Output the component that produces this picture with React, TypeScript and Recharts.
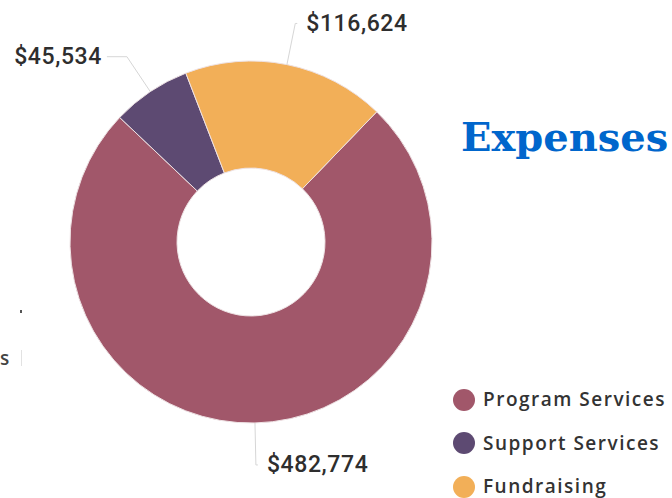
import { PieChart, Pie, Cell } from 'recharts';

const categories = ['Program Services', 'Support Services', 'Fundraising'];
const amounts = [482774, 45534, 116624];
const colors = ['#A1576A', '#5D4A72', '#F2AF58'];

const data = categories.map((name, i) => ({ name, value: amounts[i] }));

const RADIAN = Math.PI / 180;

function renderLabel(props: any) {
  const { cx, cy, midAngle, outerRadius, value } = props;
  const cos = Math.cos(-midAngle * RADIAN);
  const sin = Math.sin(-midAngle * RADIAN);
  const sx = cx + outerRadius * cos;
  const sy = cy + outerRadius * sin;
  const mx = cx + (outerRadius + 42) * cos;
  const my = cy + (outerRadius + 42) * sin;
  const left = cos < -0.1;
  const ex = mx + (left ? -20 : 2);
  const tx = ex + (left ? -5 : 9);
  return (
    <g>
      <path d={`M${sx},${sy}L${mx},${my}L${ex},${my}`} stroke="#d6d6d6" strokeWidth={1} fill="none" />
      <text
        x={tx}
        y={my}
        textAnchor={left ? 'end' : 'start'}
        dominantBaseline="central"
        fill="#2e2e2e"
        fontFamily="Roboto, sans-serif"
        fontWeight={500}
        fontSize={23}
        letterSpacing={0.6}
      >
        {'$' + value.toLocaleString('en-US')}
      </text>
    </g>
  );
}

function ExpenseLegend() {
  return (
    <div style={{ position: 'absolute', left: 453, top: 378, fontFamily: '"Open Sans", sans-serif' }}>
      {categories.map((name, i) => (
        <div key={name} style={{ display: 'flex', alignItems: 'center', height: 43.5 }}>
          <span
            style={{
              width: 22,
              height: 22,
              borderRadius: '50%',
              background: colors[i],
              display: 'inline-block',
              marginRight: 8,
            }}
          />
          <span
            style={{
              fontSize: 19,
              lineHeight: 1.1,
              fontWeight: 600,
              color: '#333',
              letterSpacing: 1.5,
              whiteSpace: 'nowrap',
            }}
          >
            {name}
          </span>
        </div>
      ))}
    </div>
  );
}

export default function App() {
  return (
    <div style={{ position: 'absolute', left: 0, top: 0, width: 672, height: 498, background: '#fff', overflow: 'hidden' }}>
      <PieChart width={672} height={498} margin={{ top: 0, right: 0, bottom: 0, left: 0 }}>
        <Pie
          data={data}
          dataKey="value"
          nameKey="name"
          cx={251}
          cy={242}
          innerRadius={74}
          outerRadius={181}
          startAngle={46}
          endAngle={-314}
          stroke="#eee2e4"
          strokeWidth={1}
          label={renderLabel}
          labelLine={false}
          isAnimationActive={false}
        >
          {data.map((d, i) => (
            <Cell key={d.name} fill={colors[i]} />
          ))}
        </Pie>
      </PieChart>
      <ExpenseLegend />
      <div
        style={{
          position: 'absolute',
          left: 461,
          top: 113,
          fontFamily: '"DejaVu Serif", serif',
          fontWeight: 700,
          fontSize: 40,
          lineHeight: 'normal',
          color: '#0066CC',
          whiteSpace: 'nowrap',
        }}
      >
        Expenses
      </div>
      <div
        style={{
          position: 'absolute',
          left: 0,
          top: 345,
          fontFamily: '"Open Sans", sans-serif',
          fontWeight: 600,
          fontSize: 19,
          color: '#444',
        }}
      >
        s
      </div>
      <div style={{ position: 'absolute', left: 20, top: 310, width: 2, height: 3, background: '#555' }} />
      <div style={{ position: 'absolute', left: 21, top: 350, width: 1, height: 16, background: '#e2e2e2' }} />
    </div>
  );
}
